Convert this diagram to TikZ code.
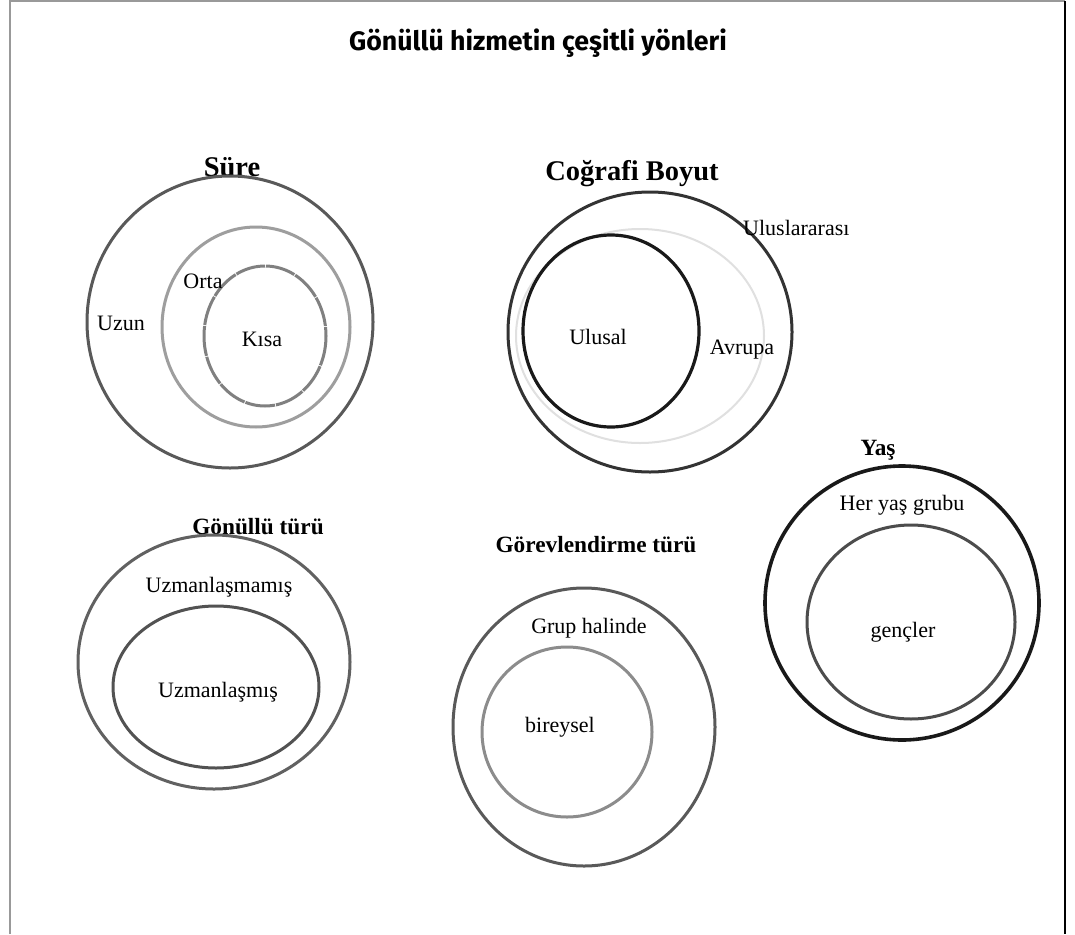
\documentclass[tikz,border=0pt]{standalone}
\usepackage{fontspec}
\setmainfont{Liberation Serif}
\newfontfamily\titlefont{Fira Sans}
\begin{document}
\begin{tikzpicture}[x=1pt,y=-1pt,
  lbl/.style={font=\fontsize{22}{24}\selectfont, inner sep=0pt},
  hd/.style={font=\fontsize{28.5}{30}\selectfont\bfseries, inner sep=0pt},
  hds/.style={font=\fontsize{23.3}{25}\selectfont\bfseries, inner sep=0pt},
  ring/.style={line width=3pt, draw=#1},
]
\useasboundingbox (0,0) rectangle (1075,934);
\fill[white] (0,0) rectangle (1075,934);
% frame
\draw[line width=1.6pt, gray!80] (10,934) -- (10,1) -- (1065,1);
\draw[line width=1.6pt, black] (1065,1) -- (1065,934);

% title
\node[inner sep=0pt, font=\titlefont\fontsize{26.7}{30}\selectfont\bfseries] (title) at (538,43) {Gönüllü hizmetin çeşitli yönleri};

% Süre
\node[hd] (sure) at (232,167) {Süre};
\draw[ring=black!65] (230,322) ellipse [x radius=143, y radius=146];
\draw[ring=black!38] (256,327) ellipse [x radius=94, y radius=100];
\draw[ring=black!50, dash pattern=on 30pt off 1pt] (265,336) ellipse [x radius=61, y radius=70];
\node[lbl] (uzun) at (121,323) {Uzun};
\node[lbl] (orta) at (203,281) {Orta};
\node[lbl] (kisa) at (262,339) {Kısa};

% Coğrafi Boyut
\node[hd] (cog) at (632,174) {Coğrafi Boyut};
\draw[ring=black!80] (650,332) ellipse [x radius=142, y radius=140];
\draw[line width=2pt, black!12] (640,336) ellipse [x radius=124, y radius=107];
\draw[line width=3.2pt, black!90] (611,331) ellipse [x radius=88, y radius=96];
\node[lbl, anchor=west] (ulusl) at (743,228) {Uluslararası};
\node[lbl] (ulusal) at (598,337) {Ulusal};
\node[lbl] (avrupa) at (742,350) {Avrupa};

% Yaş
\node[hds] (yas) at (878,450) {Yaş};
\draw[line width=3.6pt, black!90] (902,603) ellipse [x radius=137, y radius=137];
\draw[ring=black!70] (911,622) ellipse [x radius=104, y radius=97];
\node[lbl] (her) at (902,505) {Her yaş grubu};
\node[lbl] (genc) at (903,632) {gençler};

% Gönüllü türü
\node[hds] (gt) at (258,527) {Gönüllü türü};
\draw[ring=black!62] (214,662) ellipse [x radius=136, y radius=127];
\draw[ring=black!68] (216,687) ellipse [x radius=103, y radius=81];
\node[lbl] (uzm2) at (219,587) {Uzmanlaşmamış};
\node[lbl] (uzm) at (218,692) {Uzmanlaşmış};

% Görevlendirme türü
\node[hds] (gor) at (596,545) {Görevlendirme türü};
\draw[ring=black!65] (584,727) ellipse [x radius=131, y radius=139];
\draw[ring=black!45] (567,732) ellipse [x radius=85, y radius=85];
\node[lbl] (grup) at (589,628) {Grup halinde};
\node[lbl] (bir) at (560,727) {bireysel};
\end{tikzpicture}
\end{document}
